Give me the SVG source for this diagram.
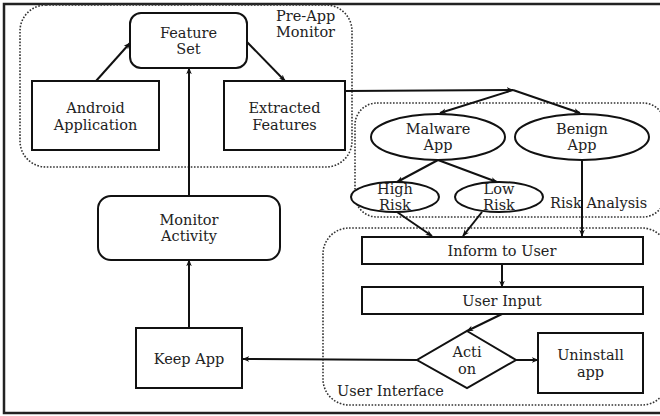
<svg xmlns="http://www.w3.org/2000/svg" width="660" height="416" viewBox="0 0 660 416">
  <defs>
    <marker id="arr" viewBox="0 0 10 10" refX="9" refY="5" markerWidth="7" markerHeight="7" orient="auto-start-reverse" markerUnits="userSpaceOnUse">
      <path d="M0,1 L10,5 L0,9 L3,5 Z" fill="#111"/>
    </marker>
    <style>
      .box { fill: #fff; stroke: #111; stroke-width: 2; }
      .grp { fill: none; stroke: #333; stroke-width: 1.6; stroke-dasharray: 1.6 1.6; }
      .edge { fill: none; stroke: #111; stroke-width: 2; }
      .lbl { font-family: "DejaVu Serif", "Liberation Serif", serif; font-size: 14.5px; fill: #222; text-anchor: middle; }
      .grl { font-family: "DejaVu Serif", "Liberation Serif", serif; font-size: 14.5px; fill: #222; }
    </style>
  </defs>

  <rect width="660" height="416" fill="#fff"/>
  <!-- outer frame (right edge runs off the canvas) -->
  <rect x="4" y="4" width="662" height="409" fill="none" stroke="#222" stroke-width="2.5"/>

  <!-- grouping regions -->
  <g id="pre-app-monitor">
    <rect class="grp" x="20" y="5" width="332" height="162" rx="26"/>
    <text class="grl" x="276" y="21">Pre-App</text>
    <text class="grl" x="276" y="37">Monitor</text>
  </g>
  <g id="risk-analysis">
    <rect class="grp" x="355" y="103" width="310" height="114" rx="22"/>
    <text class="grl" x="550" y="208">Risk Analysis</text>
  </g>
  <g id="user-interface">
    <rect class="grp" x="323" y="228" width="345" height="177" rx="26"/>
    <text class="grl" x="337" y="396">User Interface</text>
  </g>

  <!-- connectors -->
  <g id="connectors">
    <line class="edge" x1="96" y1="81" x2="130" y2="43" marker-end="url(#arr)"/>
    <line class="edge" x1="247" y1="42" x2="285" y2="81" marker-end="url(#arr)"/>
    <line class="edge" x1="189" y1="196" x2="189" y2="68" marker-end="url(#arr)"/>
    <line class="edge" x1="189" y1="328" x2="189" y2="260" marker-end="url(#arr)"/>
    <polyline class="edge" points="345,91 513,90" marker-end="url(#arr)"/>
    <line class="edge" x1="513" y1="90" x2="440" y2="113" marker-end="url(#arr)"/>
    <line class="edge" x1="513" y1="90" x2="580" y2="113" marker-end="url(#arr)"/>
    <line class="edge" x1="438" y1="160" x2="397" y2="182" marker-end="url(#arr)"/>
    <line class="edge" x1="438" y1="160" x2="497" y2="182" marker-end="url(#arr)"/>
    <line class="edge" x1="397" y1="212" x2="432" y2="236" marker-end="url(#arr)"/>
    <line class="edge" x1="482" y1="212" x2="463" y2="236" marker-end="url(#arr)"/>
    <line class="edge" x1="582" y1="160" x2="582" y2="236" marker-end="url(#arr)"/>
    <line class="edge" x1="502" y1="264" x2="502" y2="287" marker-end="url(#arr)"/>
    <line class="edge" x1="502" y1="314" x2="467" y2="331" marker-end="url(#arr)"/>
    <line class="edge" x1="516" y1="360" x2="538" y2="360" marker-end="url(#arr)"/>
    <line class="edge" x1="417" y1="360" x2="243" y2="359" marker-end="url(#arr)"/>
  </g>

  <!-- nodes -->
  <g id="feature-set">
    <rect class="box" x="130" y="13" width="117" height="55" rx="11"/>
    <text class="lbl" x="188.5" y="38">Feature</text>
    <text class="lbl" x="188.5" y="54">Set</text>
  </g>
  <g id="android-application">
    <rect class="box" x="32" y="81" width="127" height="69"/>
    <text class="lbl" x="95.5" y="113">Android</text>
    <text class="lbl" x="95.5" y="130">Application</text>
  </g>
  <g id="extracted-features">
    <rect class="box" x="224" y="81" width="121" height="69"/>
    <text class="lbl" x="284.5" y="113">Extracted</text>
    <text class="lbl" x="284.5" y="130">Features</text>
  </g>
  <g id="monitor-activity">
    <rect class="box" x="98" y="196" width="182" height="64" rx="13"/>
    <text class="lbl" x="189" y="225">Monitor</text>
    <text class="lbl" x="189" y="241">Activity</text>
  </g>
  <g id="keep-app">
    <rect class="box" x="136" y="328" width="106" height="60"/>
    <text class="lbl" x="189" y="364">Keep App</text>
  </g>
  <g id="malware-app">
    <ellipse class="box" cx="438" cy="137" rx="67" ry="23"/>
    <text class="lbl" x="438" y="134">Malware</text>
    <text class="lbl" x="438" y="150">App</text>
  </g>
  <g id="benign-app">
    <ellipse class="box" cx="582" cy="137" rx="67" ry="23"/>
    <text class="lbl" x="582" y="134">Benign</text>
    <text class="lbl" x="582" y="150">App</text>
  </g>
  <g id="high-risk">
    <ellipse class="box" cx="395" cy="197" rx="44" ry="15"/>
    <text class="lbl" x="395" y="194">High</text>
    <text class="lbl" x="395" y="210">Risk</text>
  </g>
  <g id="low-risk">
    <ellipse class="box" cx="499" cy="197" rx="44" ry="15"/>
    <text class="lbl" x="499" y="194">Low</text>
    <text class="lbl" x="499" y="210">Risk</text>
  </g>
  <g id="inform-to-user">
    <rect class="box" x="362" y="237" width="281" height="27"/>
    <text class="lbl" x="502" y="256">Inform to User</text>
  </g>
  <g id="user-input">
    <rect class="box" x="362" y="287" width="281" height="27"/>
    <text class="lbl" x="502" y="306">User Input</text>
  </g>
  <g id="action">
    <polygon class="box" points="467,331 516,360 467,388 417,360"/>
    <text class="lbl" x="467" y="357">Acti</text>
    <text class="lbl" x="467" y="374">on</text>
  </g>
  <g id="uninstall-app">
    <rect class="box" x="538" y="333" width="105" height="60"/>
    <text class="lbl" x="590.5" y="360">Uninstall</text>
    <text class="lbl" x="590.5" y="377">app</text>
  </g>
</svg>
